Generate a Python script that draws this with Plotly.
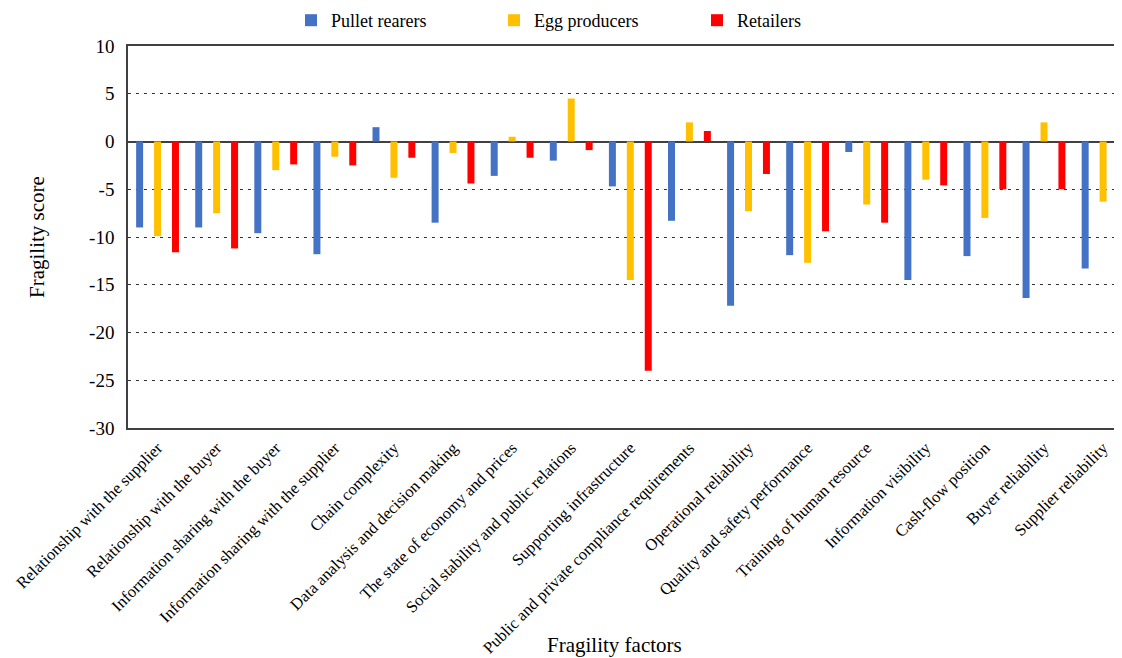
import plotly.graph_objects as go

# ── Dados ─────────────────────────────────────────────────────
fatores = [
    "Relationship with the supplier",
    "Relationship with the buyer",
    "Information sharing with the buyer",
    "Information sharing with the supplier",
    "Chain complexity",
    "Data analysis and decision making",
    "The state of economy and prices",
    "Social stability and public relations",
    "Supporting infrastructure",
    "Public and private compliance requirements",
    "Operational reliability",
    "Quality and safety performance",
    "Training of human resource",
    "Information visibility",
    "Cash-flow position",
    "Buyer reliability",
    "Supplier reliability",
]
pullet_rearers = [-9.0, -9.0, -9.6, -11.8, 1.5, -8.5, -3.6, -2.0, -4.7, -8.3,
                  -17.2, -11.9, -1.1, -14.5, -12.0, -16.4, -13.3]
egg_producers = [-9.9, -7.5, -3.0, -1.6, -3.8, -1.2, 0.5, 4.5, -14.5, 2.0,
                 -7.3, -12.7, -6.6, -4.0, -8.0, 2.0, -6.3]
retailers = [-11.6, -11.2, -2.4, -2.5, -1.7, -4.4, -1.7, -0.9, -24.0, 1.1,
             -3.4, -9.4, -8.5, -4.6, -5.0, -5.0, -11.6]

y_ticks = [10, 5, 0, -5, -10, -15, -20, -25, -30]
y_ticktext = [str(v) for v in y_ticks]   # hífen comum, como no Excel

series = [
    ("Pullet rearers", pullet_rearers, "#4472C4"),
    ("Egg producers", egg_producers, "#FFC000"),
    ("Retailers", retailers, "#FF0000"),
]

# ── Estilo ────────────────────────────────────────────────────
_FONT = "Liberation Serif"
_TXT = "#000000"
_LINHA = "#404040"

# a página tem 8px de margem no body: a figura é deslocada 8px
_W, _H = 1114, 650
_L, _T, _B = 120, 38, 230
_PLOT_H = _H - _T - _B   # 382
_PLOT_W = _W - _L        # 994

fig = go.Figure()
for nome, valores, cor in series:
    fig.add_trace(go.Bar(
        x=list(range(len(fatores))),
        y=valores,
        name=nome,
        marker=dict(color=cor, line_width=0),
    ))

fig.update_layout(
    width=_W,
    height=_H,
    paper_bgcolor="white",
    plot_bgcolor="white",
    font=dict(family=_FONT, color=_TXT, size=19),
    margin=dict(l=_L, r=0, t=_T, b=_B, autoexpand=False),
    barmode="group",
    bargap=0.09,
    bargroupgap=0.61,
    showlegend=True,
    legend=dict(
        orientation="h",
        xref="paper", x=0.164, xanchor="left",
        yref="paper", y=1 + 44 / _PLOT_H, yanchor="top",
        font=dict(size=18, family=_FONT),
        entrywidth=158,
        itemwidth=30,
        bgcolor="rgba(0,0,0,0)",
    ),
    xaxis=dict(
        range=[-0.5, 16.32],
        tickmode="array",
        tickvals=list(range(len(fatores))),
        ticktext=fatores,
        tickangle=-45,
        tickfont=dict(size=16.5, family=_FONT),
        showgrid=False,
        zeroline=False,
        showline=True,
        linecolor=_LINHA,
        linewidth=1.5,
        mirror=True,
        ticks="",
        ticklabelstandoff=2,
        automargin=False,
    ),
    yaxis=dict(
        range=[-30, 10],
        tickmode="array",
        tickvals=y_ticks,
        ticktext=y_ticktext,
        tickfont=dict(size=19, family=_FONT),
        showgrid=True,
        gridcolor="#333333",
        gridwidth=1.2,
        griddash="3px,5px",
        zeroline=True,
        zerolinecolor=_LINHA,
        zerolinewidth=1.5,
        showline=True,
        linecolor=_LINHA,
        linewidth=1.5,
        ticks="",
        ticklabelstandoff=8,
        automargin=False,
    ),
    annotations=[
        dict(
            text="Fragility factors", xref="paper", yref="paper",
            x=(606 - _L) / _PLOT_W, y=(_T + _PLOT_H - 637) / _PLOT_H,
            xanchor="center", yanchor="middle", showarrow=False,
            font=dict(size=21, family=_FONT),
        ),
        dict(
            text="Fragility score", xref="paper", yref="paper",
            x=(29 - _L) / _PLOT_W, y=0.5, textangle=-90,
            xanchor="center", yanchor="middle", showarrow=False,
            font=dict(size=21, family=_FONT),
        ),
    ],
)

fig.write_html("out.html")
